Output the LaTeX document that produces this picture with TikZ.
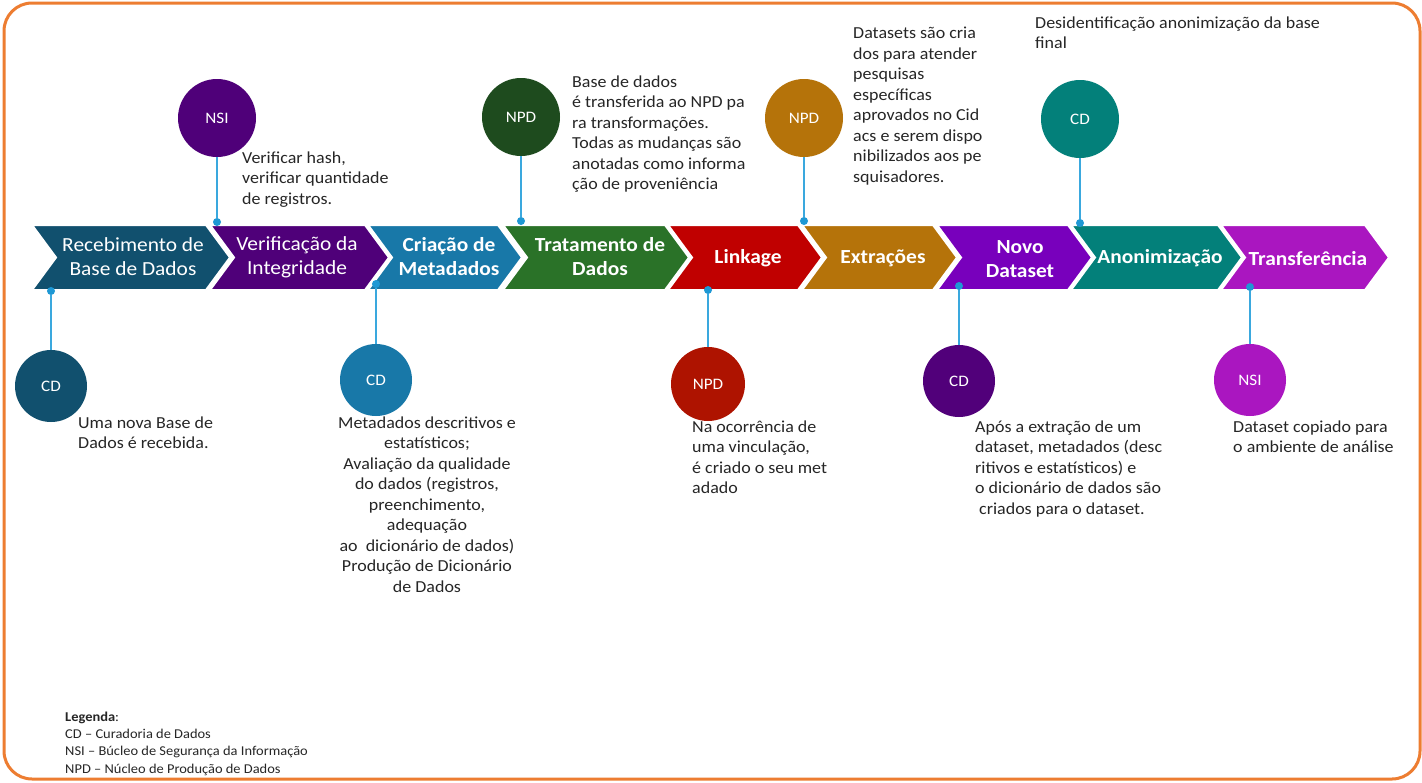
\documentclass[tikz,border=0pt]{standalone}
\usepackage{fontspec}
\setmainfont{Carlito}[FakeStretch=1.07]
\definecolor{frameorange}{HTML}{ED7D31}
\definecolor{lineblue}{HTML}{3AA8DE}
\definecolor{dotblue}{HTML}{1E98D4}
\definecolor{txt}{HTML}{262626}
\definecolor{cA}{HTML}{11506E}
\definecolor{cB}{HTML}{4F0079}
\definecolor{cC}{HTML}{1878A8}
\definecolor{cD}{HTML}{2A7228}
\definecolor{cE}{HTML}{C00000}
\definecolor{cF}{HTML}{B5730A}
\definecolor{cG}{HTML}{7800BC}
\definecolor{cH}{HTML}{03807A}
\definecolor{cI}{HTML}{AA16C0}
\definecolor{dGreen}{HTML}{1E4B1E}
\definecolor{dRed}{HTML}{AE1300}
\definecolor{dPurple}{HTML}{51007A}
\newcommand\notefont{\fontsize{16.8}{20.5}\selectfont}
\newcommand\chevfont{\fontsize{20}{24}\selectfont}
% one arrow segment of the process band: left x, right x, colour
\newcommand\chevshape[3]{\filldraw[chevbox, fill=#3] (#1,225) -- (#2,225) -- ++(24,32.5) -- (#2,290) -- (#1,290) -- ++(24,-32.5) -- cycle;}
\tikzset{
  chevbox/.style={draw=white, line width=2pt, line join=miter},
  chevtext/.style={align=center, inner sep=0, text=white, font=\chevfont},
  dotmark/.style={circle, fill=dotblue, inner sep=0, minimum size=8pt},
  role/.style={circle, inner sep=0, text=white, font=\fontsize{16}{16}\selectfont},
  note/.style={align=left, inner sep=0, anchor=base west, text=txt, font=\notefont},
  conn/.style={draw=lineblue, line width=1.8pt}
}
\begin{document}
\begin{tikzpicture}[x=1pt,y=-1pt]
\useasboundingbox (0,0) rectangle (1422,782);
\fill[white] (0,0) rectangle (1422,782);
\draw[frameorange, line width=3pt, rounded corners=28pt] (4,3) rectangle (1420,779);

% process band
\chevshape{32}{206}{cA}
\chevshape{210}{365}{cB}
\chevshape{368}{498}{cC}
\chevshape{503}{665}{cD}
\chevshape{668}{798}{cE}
\chevshape{802}{933}{cF}
\chevshape{937}{1068}{cG}
\chevshape{1071}{1218}{cH}
\chevshape{1221}{1365}{cI}

\node[chevtext] (t1) at (133,257) {Recebimento de\\Base de Dados};
\node[chevtext] (t2) at (297,257) {Verificação da\\Integridade};
\node[chevtext, font=\chevfont\bfseries] (t3) at (449,257) {Criação de\\Metadados};
\node[chevtext, font=\chevfont\bfseries] (t4) at (600,257) {Tratamento de\\Dados};
\node[chevtext, font=\chevfont\bfseries] (t5) at (748,258) {Linkage};
\node[chevtext, font=\chevfont\bfseries] (t6) at (883,258) {Extrações};
\node[chevtext, font=\chevfont\bfseries] (t7) at (1020,259) {Novo\\Dataset};
\node[chevtext, font=\chevfont\bfseries] (t8) at (1160,258) {Anonimização};
\node[chevtext, font=\chevfont\bfseries] (t9) at (1308,259) {Transferência};

% responsible units
\node[role, fill=cA, minimum size=72pt] (r1) at (51,386) {CD};
\node[role, fill=cB, minimum size=78pt] (r2) at (217,118) {NSI};
\node[role, fill=cC, minimum size=72pt] (r3) at (376,380) {CD};
\node[role, fill=dGreen, minimum size=78pt] (r4) at (521,117) {NPD};
\node[role, fill=dRed, minimum size=74pt] (r5) at (708,384) {NPD};
\node[role, fill=cF, minimum size=78pt] (r6) at (804,118) {NPD};
\node[role, fill=dPurple, minimum size=72pt] (r7) at (959,381) {CD};
\node[role, fill=cH, minimum size=78pt] (r8) at (1080,119) {CD};
\node[role, fill=cI, minimum size=72pt] (r9) at (1250,380) {NSI};

% anchor points on the band
\node[dotmark] (d1) at (51,291) {};
\node[dotmark] (d2) at (217,222) {};
\node[dotmark] (d3) at (376,284) {};
\node[dotmark] (d4) at (521,221) {};
\node[dotmark] (d5) at (708,290) {};
\node[dotmark] (d6) at (804,221) {};
\node[dotmark] (d7) at (959,286) {};
\node[dotmark] (d8) at (1080,223) {};
\node[dotmark] (d9) at (1250,287) {};

\foreach \i in {1,...,9} {\draw[conn] (r\i) -- (d\i);}

% descriptions (placed by the baseline of their last line)
\node[note] (n1) at (78,448.5) {Uma nova Base de\\Dados é recebida.};
\node[note] (n2) at (242,204) {Verificar hash,\\verificar quantidade\\de registros.};
\node[note, align=center, anchor=base] (n3) at (427,592) {Metadados descritivos e\\estatísticos;\\Avaliação da qualidade\\do dados (registros,\\preenchimento,\\adequação\\ao\ \ dicionário de dados)\\Produção de Dicionário\\de Dados};
\node[note] (n4) at (572,189.5) {Base de dados\\é transferida ao NPD pa\\ra transformações.\\Todas as mudanças são\\anotadas como informa\\ção de proveniência};
\node[note] (n5) at (692,493.5) {Na ocorrência de\\uma vinculação,\\é criado o seu met\\adado};
\node[note] (n6) at (853,182) {Datasets são cria\\dos para atender\\pesquisas\\específicas\\aprovados no Cid\\acs e serem dispo\\nibilizados aos pe\\squisadores.};
\node[note] (n7) at (975,514) {Após a extração de um\\dataset, metadados (desc\\ritivos e estatísticos) e\\o dicionário de dados são\\\hspace{4pt}criados para o dataset.};
\node[note] (n8) at (1035,48.5) {Desidentificação anonimização da base\\final};
\node[note] (n9) at (1233,452.5) {Dataset copiado para\\o ambiente de análise};

% legend
\node[note, font=\fontsize{13.5}{17.3}\selectfont] (leg) at (65,773) {\textbf{Legenda}:\\CD – Curadoria de Dados\\NSI – Búcleo de Segurança da Informação\\NPD – Núcleo de Produção de Dados};
\end{tikzpicture}
\end{document}
